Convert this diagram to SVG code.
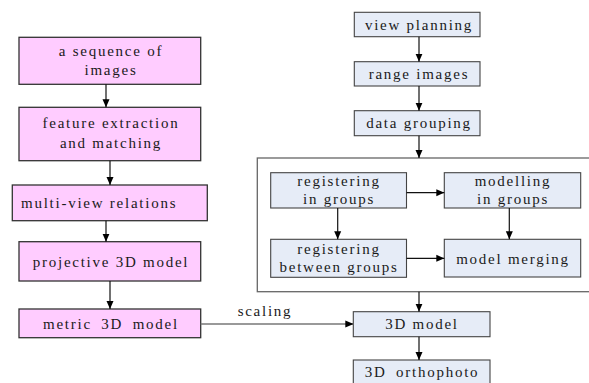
<svg xmlns="http://www.w3.org/2000/svg" width="589" height="383" viewBox="0 0 589 383" font-family="Liberation Serif, Times New Roman, serif">
<style>
text{font-size:15px;letter-spacing:1.75px;fill:#1a1a1a;text-anchor:middle}
.pk{fill:#ffccff;stroke:#333;stroke-width:1.3}
.bl{fill:#e6ecf7;stroke:#444;stroke-width:1.1}
.ct{fill:none;stroke:#666;stroke-width:1.3}
.ln{stroke:#111;stroke-width:1.2;fill:none}
.gl{stroke:#777;stroke-width:1.5;fill:none}
</style>
<defs>
<marker id="ah" viewBox="0 0 8 8" refX="8" refY="4" markerWidth="8" markerHeight="8" markerUnits="userSpaceOnUse" orient="auto">
<path d="M0,0.5 L8,4 L0,7.5 z" fill="#000"/>
</marker>
</defs>
<rect id="container" class="ct" x="257.3" y="158" width="340" height="133.7"/>
<g id="n1"><rect class="pk" x="19" y="37.3" width="181.7" height="47"/><text x="111" y="56">a sequence of</text><text x="111" y="74.5">images</text></g>
<g id="n2"><rect class="pk" x="19" y="107.3" width="181.7" height="53.4"/><text x="111" y="127.5">feature extraction</text><text x="111" y="147.5">and matching</text></g>
<g id="n3"><rect class="pk" x="12.3" y="185" width="195" height="35.7"/><text x="21" y="208.3" style="text-anchor:start">multi-view relations</text></g>
<g id="n4"><rect class="pk" x="19" y="241.7" width="181.7" height="39.3"/><text x="111" y="266.7">projective 3D model</text></g>
<g id="n5"><rect class="pk" x="19" y="309" width="181.7" height="28.7"/><text x="111" y="328.5" style="word-spacing:4px">metric 3D model</text></g>
<g id="r1"><rect class="bl" x="354.3" y="12.3" width="125.7" height="24.4"/><text x="419" y="29.5">view planning</text></g>
<g id="r2"><rect class="bl" x="354.3" y="61.7" width="125.7" height="24.3"/><text x="419" y="78.5">range images</text></g>
<g id="r3"><rect class="bl" x="354.3" y="110.7" width="125.7" height="25"/><text x="419" y="127.5">data grouping</text></g>
<g id="g1"><rect class="bl" x="270.7" y="172.7" width="135.8" height="35.3"/><text x="339" y="185.5">registering</text><text x="339" y="204">in groups</text></g>
<g id="g2"><rect class="bl" x="444.3" y="172.7" width="136.4" height="35.3"/><text x="513" y="185.5">modelling</text><text x="513" y="204">in groups</text></g>
<g id="g3"><rect class="bl" x="270.7" y="239.3" width="135.8" height="38"/><text x="339" y="253.5">registering</text><text x="339" y="272">between groups</text></g>
<g id="g4"><rect class="bl" x="444.3" y="239.3" width="136.4" height="37.7"/><text x="513" y="263.5">model merging</text></g>
<g id="m1"><rect class="bl" x="353.3" y="311.7" width="136.7" height="25"/><text x="422" y="328.5">3D model</text></g>
<g id="m2"><rect class="bl" x="353.3" y="360" width="136.7" height="26"/><text x="422" y="377" style="word-spacing:4px">3D orthophoto</text></g>
<g id="connectors">
<line class="ln" x1="106" y1="84.3" x2="106" y2="107.3" marker-end="url(#ah)"/>
<line class="ln" x1="110" y1="160.7" x2="110" y2="185" marker-end="url(#ah)"/>
<line class="ln" x1="106" y1="220.7" x2="106" y2="241.7" marker-end="url(#ah)"/>
<line class="ln" x1="110" y1="281" x2="110" y2="309" marker-end="url(#ah)"/>
<line class="ln" x1="419" y1="36.7" x2="419" y2="61.7" marker-end="url(#ah)"/>
<line class="ln" x1="419" y1="86" x2="419" y2="110.7" marker-end="url(#ah)"/>
<line class="ln" x1="419" y1="135.7" x2="419" y2="158" marker-end="url(#ah)"/>
<line class="ln" x1="406.5" y1="192.7" x2="444.3" y2="192.7" marker-end="url(#ah)"/>
<line class="ln" x1="337.7" y1="208" x2="337.7" y2="239.3" marker-end="url(#ah)"/>
<line class="ln" x1="509.3" y1="208" x2="509.3" y2="239.3" marker-end="url(#ah)"/>
<line class="ln" x1="406.5" y1="258.3" x2="444.3" y2="258.3" marker-end="url(#ah)"/>
<line class="ln" x1="419" y1="291.7" x2="419" y2="311.7" marker-end="url(#ah)"/>
<line class="ln" x1="419" y1="336.7" x2="419" y2="360" marker-end="url(#ah)"/>
<line class="gl" x1="200.7" y1="324" x2="353.3" y2="324" marker-end="url(#ah)"/>
<text x="265" y="315.7">scaling</text>
</g>
</svg>
